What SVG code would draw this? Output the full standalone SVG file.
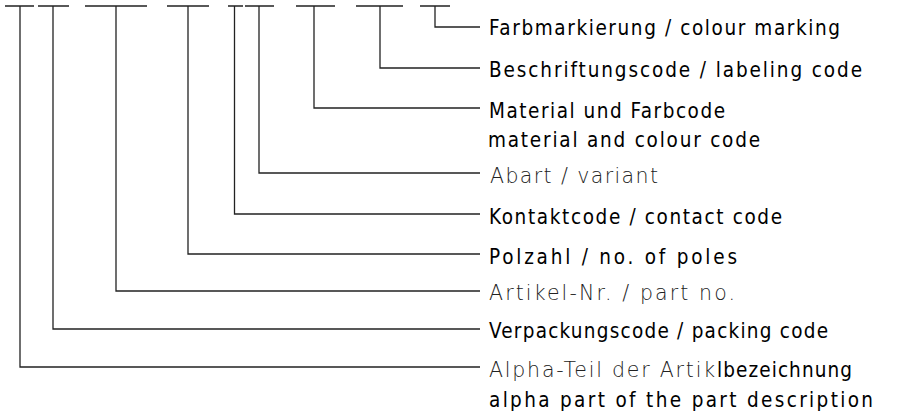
<svg xmlns="http://www.w3.org/2000/svg" width="922" height="417" viewBox="0 0 922 417">
<style>
.ln{fill:none;stroke:#222;stroke-width:1.3;stroke-linecap:butt;stroke-linejoin:miter}
text{font-family:"DejaVu Sans","Noto Sans",sans-serif;font-size:20.5px}
.b{fill:#000;font-weight:400;font-stretch:condensed}
.l{fill:#222;font-weight:200}
</style>
<rect width="922" height="417" fill="#fff"/>
<g id="connectors">
<path class="ln" d="M5 6H34M20 6V367H480"/>
<path class="ln" d="M38 6H69M53 6V329H480"/>
<path class="ln" d="M85 6H147M116 6V291H480"/>
<path class="ln" d="M167 6H209M188 6V254H480"/>
<path class="ln" d="M228 6H243M234.5 6V214H480"/>
<path class="ln" d="M245 6H274M259 6V173H480"/>
<path class="ln" d="M296 6H335M314 6V108H480"/>
<path class="ln" d="M356 6H403M380 6V68H480"/>
<path class="ln" d="M420 6H450M435 6V27H480"/>
</g>
<g id="label-farbmarkierung"><text class="b" x="489" y="35" textLength="351" lengthAdjust="spacing">Farbmarkierung / colour marking</text></g>
<g id="label-beschriftungscode"><text class="b" x="489" y="77" textLength="373" lengthAdjust="spacing">Beschriftungscode / labeling code</text></g>
<g id="label-material"><text class="b" x="489" y="118" textLength="236" lengthAdjust="spacing">Material und Farbcode</text><text class="b" x="488" y="147" textLength="272" lengthAdjust="spacing">material and colour code</text></g>
<g id="label-abart"><text class="l" x="490" y="183" textLength="168" lengthAdjust="spacing">Abart / variant</text></g>
<g id="label-kontaktcode"><text class="b" x="489" y="224" textLength="293" lengthAdjust="spacing">Kontaktcode / contact code</text></g>
<g id="label-polzahl"><text class="b" x="489" y="264" textLength="248" lengthAdjust="spacing">Polzahl / no. of poles</text></g>
<g id="label-artikel"><text class="l" x="489" y="300" textLength="246" lengthAdjust="spacing">Artikel-Nr. / part no.</text></g>
<g id="label-verpackungscode"><text class="b" x="489" y="338" textLength="339" lengthAdjust="spacing">Verpackungscode / packing code</text></g>
<g id="label-alpha"><text class="l" x="489" y="377" textLength="226" lengthAdjust="spacing">Alpha-Teil der Artik</text><text class="b" x="717" y="377" textLength="135" lengthAdjust="spacing">lbezeichnung</text><text class="b" x="489" y="407" textLength="384" lengthAdjust="spacing">alpha part of the part description</text></g>
</svg>
